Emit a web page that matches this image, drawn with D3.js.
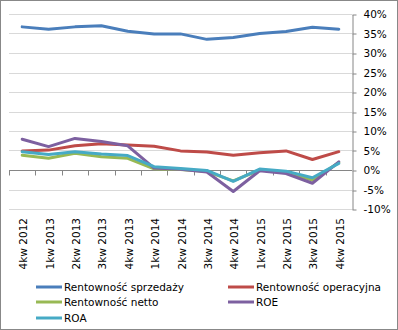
<!DOCTYPE html>
<html>
<head>
<meta charset="utf-8">
<script src="https://cdn.jsdelivr.net/npm/d3@7"></script>
<style>
  body { margin: 0; background: #fff; }
  svg { display: block; font-family: "DejaVu Sans", sans-serif; }
</style>
</head>
<body>
<div id="chart"></div>
<script>
const quarters = ['4kw 2012', '1kw 2013', '2kw 2013', '3kw 2013', '4kw 2013', '1kw 2014', '2kw 2014',
  '3kw 2014', '4kw 2014', '1kw 2015', '2kw 2015', '3kw 2015', '4kw 2015'];

const rentSprzedazy = [36.7, 36.1, 36.7, 37.0, 35.6, 34.9, 34.9, 33.5, 34.0, 35.0, 35.5, 36.6, 36.1];
const rentOperacyjna = [4.9, 5.1, 6.2, 6.7, 6.4, 6.1, 4.9, 4.6, 3.8, 4.4, 4.9, 2.7, 4.7];
const rentNetto = [3.8, 3.0, 4.3, 3.4, 3.0, 0.3, 0.1, -0.4, -2.8, 0.0, -0.5, -2.6, 1.9];
const roe = [7.9, 6.0, 8.1, 7.3, 6.2, 0.5, 0.2, -0.5, -5.5, -0.2, -0.9, -3.4, 2.1];
const roa = [4.7, 4.0, 4.7, 4.1, 3.7, 0.85, 0.4, -0.1, -2.9, 0.25, -0.3, -2.0, 1.7];

const yTicks = [-10, -5, 0, 5, 10, 15, 20, 25, 30, 35, 40];

const series = [
  { name: 'Rentowność sprzedaży', values: rentSprzedazy, color: '#4a7ebb' },
  { name: 'Rentowność operacyjna', values: rentOperacyjna, color: '#be4b48' },
  { name: 'Rentowność netto', values: rentNetto, color: '#98b954' },
  { name: 'ROE', values: roe, color: '#7d60a0' },
  { name: 'ROA', values: roa, color: '#46aac5' }
];

const width = 398, height = 330;

const svg = d3.select('#chart').append('svg')
  .attr('width', width)
  .attr('height', height);

// chart border
svg.append('rect')
  .attr('x', 0.5).attr('y', 0.5)
  .attr('width', width - 1).attr('height', height - 1)
  .attr('fill', '#fff')
  .attr('stroke', '#888');

const x = d3.scaleBand()
  .domain(quarters)
  .range([9, 352]);

const y = d3.scaleLinear()
  .domain([-10, 40])
  .range([209, 14]);

// gridlines
svg.append('g')
  .selectAll('line')
  .data(yTicks)
  .enter().append('line')
  .attr('x1', 9).attr('x2', 352)
  .attr('y1', d => Math.round(y(d)) + 0.5)
  .attr('y2', d => Math.round(y(d)) + 0.5)
  .attr('stroke', '#d9d9d9');

// right axis
const yAxis = svg.append('g')
  .attr('transform', 'translate(352.5,0.5)')
  .call(d3.axisRight(y).tickValues(yTicks).tickSize(4).tickSizeOuter(0).tickPadding(7)
    .tickFormat(d => d + '%'));
yAxis.select('.domain').attr('stroke', '#868686');
yAxis.selectAll('.tick line').attr('stroke', '#868686')
  .attr('transform', (d, i) => `translate(0,${Math.round(y(d)) - y(d)})`);
yAxis.selectAll('.tick text')
  .attr('fill', '#000')
  .style('font-size', '10.5px')
  .style('font-family', '"DejaVu Sans", sans-serif');

// horizontal axis at 0%
const y0 = Math.round(y(0)) + 0.5;
svg.append('line')
  .attr('x1', 9).attr('x2', 352)
  .attr('y1', y0).attr('y2', y0)
  .attr('stroke', '#868686');

svg.append('g')
  .selectAll('line')
  .data(quarters)
  .enter().append('line')
  .attr('x1', d => Math.round(x(d)) + 0.5)
  .attr('x2', d => Math.round(x(d)) + 0.5)
  .attr('y1', y0).attr('y2', y0 + 5)
  .attr('stroke', '#868686');

// category labels
svg.append('g')
  .selectAll('text')
  .data(quarters)
  .enter().append('text')
  .attr('transform', d => `translate(${x(d) + x.bandwidth() / 2 + 5},218) rotate(-90)`)
  .attr('text-anchor', 'end')
  .style('font-size', '10.5px')
  .text(d => d);

// lines
const line = d3.line()
  .x((d, i) => x(quarters[i]) + x.bandwidth() / 2)
  .y(d => y(d));

svg.append('g')
  .selectAll('path')
  .data(series)
  .enter().append('path')
  .attr('d', d => line(d.values))
  .attr('fill', 'none')
  .attr('stroke', d => d.color)
  .attr('stroke-width', 3)
  .attr('stroke-linejoin', 'round')
  .attr('stroke-linecap', 'round');

// legend
const legendPos = [[36, 287], [228, 287], [36, 302], [228, 302], [36, 318]];
const legend = svg.append('g')
  .selectAll('g')
  .data(series)
  .enter().append('g')
  .attr('transform', (d, i) => `translate(${legendPos[i][0]},${legendPos[i][1]})`);

legend.append('line')
  .attr('x1', 0).attr('x2', 26)
  .attr('y1', 0).attr('y2', 0)
  .attr('stroke', d => d.color)
  .attr('stroke-width', 3);

legend.append('text')
  .attr('x', 28)
  .attr('y', 4)
  .style('font-size', '10.5px')
  .text(d => d.name);
</script>
</body>
</html>
